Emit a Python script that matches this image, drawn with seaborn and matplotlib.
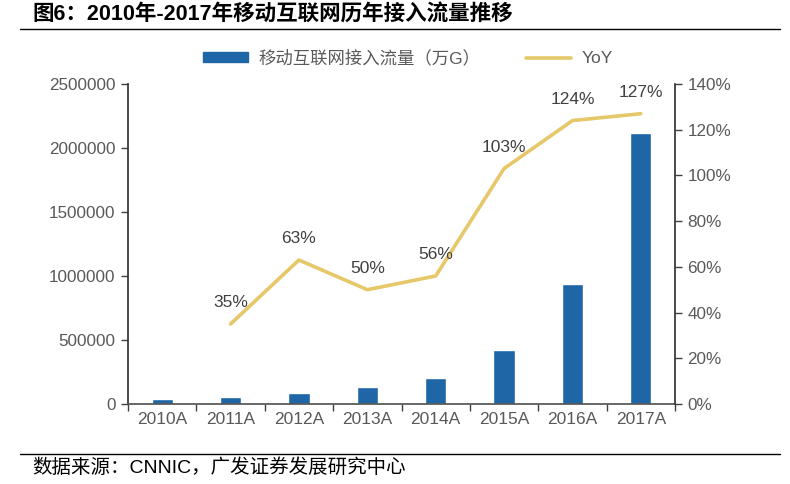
import numpy as np
import pandas as pd
import matplotlib
matplotlib.use("Agg")
import matplotlib.pyplot as plt
import seaborn as sns
from matplotlib.lines import Line2D
from matplotlib.patches import Patch

years = ["2010A", "2011A", "2012A", "2013A", "2014A", "2015A", "2016A", "2017A"]
traffic = [40000, 54000, 88000, 132000, 206000, 419000, 936000, 2121000]
yoy = [np.nan, 35, 63, 50, 56, 103, 124, 127]
yoy_labels = ["", "35%", "63%", "50%", "56%", "103%", "124%", "127%"]

bar_color = "#1F66A6"
line_color = "#E6C86A"
txt = "#595959"

sns.set_theme(style="white")
plt.rcParams["font.family"] = ["Liberation Sans", "Noto Sans CJK SC", "DejaVu Sans"]

df = pd.DataFrame({"year": years, "traffic": traffic, "yoy": yoy})
df["pos"] = np.arange(len(years))

fig = plt.figure(figsize=(7.9, 4.84), dpi=100)
ax = fig.add_axes([128 / 790, 1 - 404 / 484, 547 / 790, 320 / 484])

sns.barplot(data=df, x="year", y="traffic", color=bar_color, width=0.31,
            saturation=1, ax=ax)
ax.set_ylim(0, 2500000)
ax.set_yticks(np.arange(0, 2500001, 500000))
ax.set_yticklabels([str(v) for v in range(0, 2500001, 500000)])
ax.set_xlim(-0.5, len(years) - 0.5)
ax.set_xlabel("")
ax.set_ylabel("")

ax2 = ax.twinx()
sns.lineplot(data=df.dropna(), x="pos", y="yoy", color=line_color, lw=2.6, ax=ax2)
ax2.set_ylim(0, 140)
ax2.set_yticks(np.arange(0, 141, 20))
ax2.set_yticklabels([f"{v}%" for v in range(0, 141, 20)])
ax2.set_ylabel("")
ax2.set_xlim(-0.5, len(years) - 0.5)

for p, v, lab in zip(df["pos"], df["yoy"], yoy_labels):
    if lab:
        ax2.annotate(lab, (p, v), xytext=(0, 10), textcoords="offset points",
                     ha="center", va="bottom", fontsize=12.5, color="#404040")

# category ticks sit on the boundaries
ax.set_xticks(np.arange(len(years)))
ax.set_xticklabels(years)
ax.set_xticks(np.arange(len(years) + 1) - 0.5, minor=True)
ax.tick_params(axis="x", which="major", length=0, labelsize=12.5, labelcolor=txt, pad=6)
ax.tick_params(axis="x", which="minor", length=5, color="#404040", width=1, direction="out", bottom=True)
ax.tick_params(axis="y", length=5, color="#404040", width=1, direction="out", left=True,
               labelsize=12.3, labelcolor=txt, pad=4)
ax2.tick_params(axis="y", length=5, color="#404040", width=1, direction="out", right=True,
                labelsize=12.3, labelcolor=txt, pad=4)

for a in (ax, ax2):
    a.spines["top"].set_visible(False)
    a.grid(False)
ax.spines["right"].set_visible(False)
ax.spines["left"].set_color("#333333")
ax.spines["bottom"].set_color("#555555")
ax2.spines["left"].set_visible(False)
ax2.spines["bottom"].set_visible(False)
ax2.spines["right"].set_color("#333333")

handles = [Patch(color=bar_color), Line2D([0], [0], color=line_color, lw=2.6)]
fig.legend(handles, ["移动互联网接入流量（万G）", "YoY"], loc="center",
           bbox_to_anchor=(408 / 790, 1 - 58 / 484), ncol=2, frameon=False,
           fontsize=12.5, labelcolor=txt, handlelength=2.6, handleheight=0.5,
           columnspacing=2.6, handletextpad=0.6)

fig.text(32 / 790, 1 - 15 / 484, "图6：2010年-2017年移动互联网历年接入流量推移",
         fontsize=15.5, fontweight="bold", va="center", ha="left", color="black")
fig.add_artist(Line2D([20 / 790, 780 / 790], [1 - 29 / 484, 1 - 29 / 484],
                      color="black", lw=1))
fig.add_artist(Line2D([20 / 790, 780 / 790], [1 - 454 / 484, 1 - 454 / 484],
                      color="black", lw=1))
fig.text(32 / 790, 1 - 468 / 484, "数据来源：CNNIC，广发证券发展研究中心",
         fontsize=14, va="center", ha="left", color="black")

fig.savefig("out.png", dpi=100)
